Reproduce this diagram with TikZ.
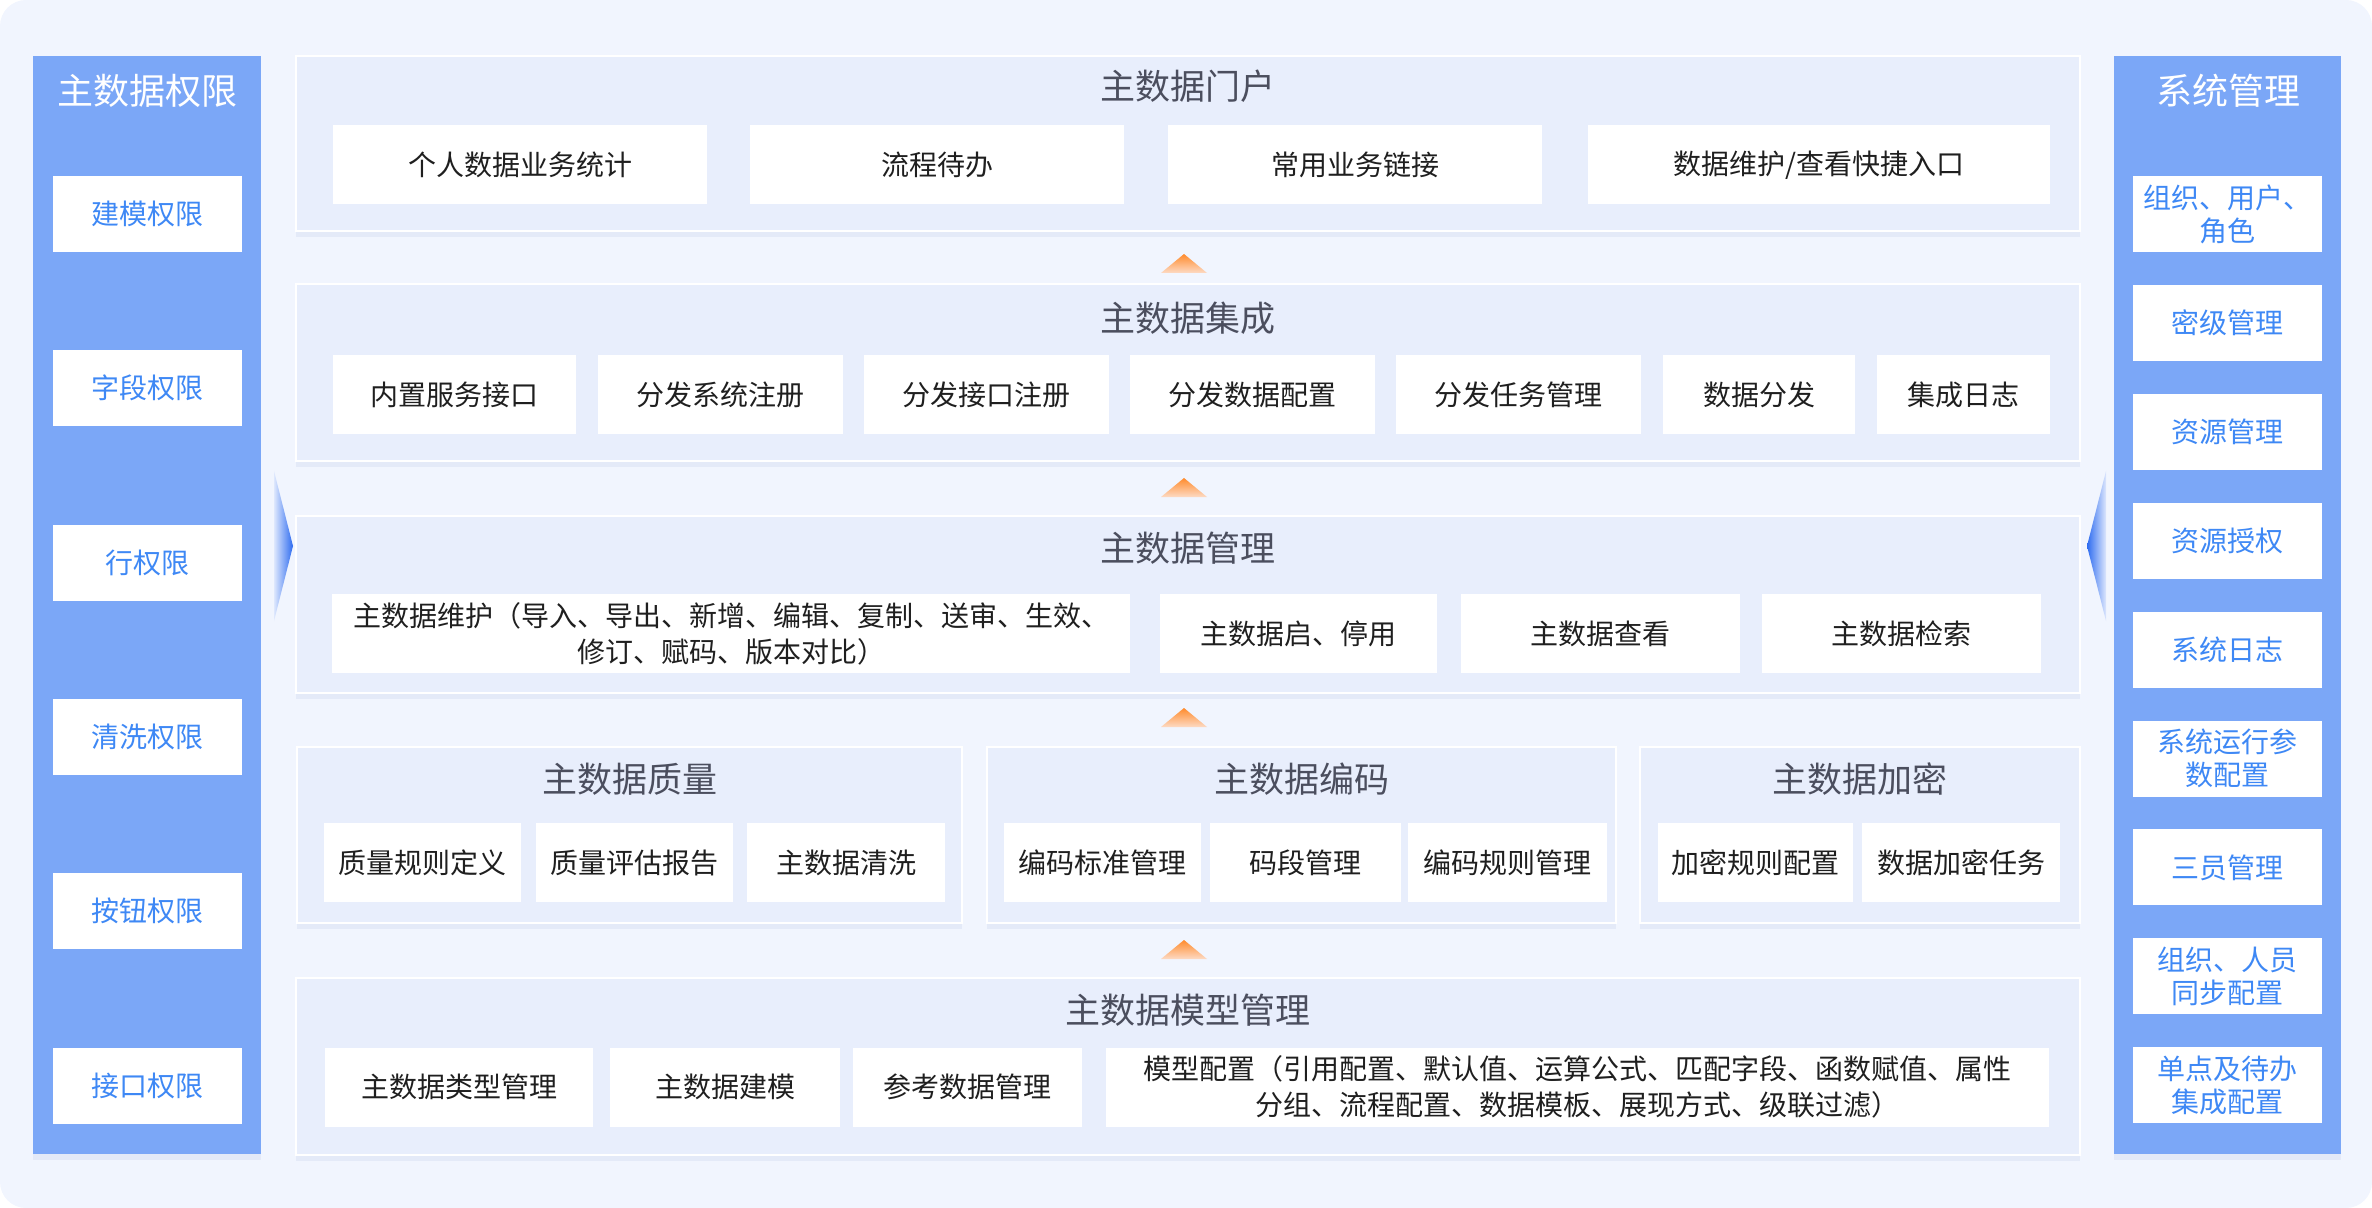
\documentclass[tikz,border=0pt]{standalone}
\usepackage{fontspec}
\setmainfont{Noto Sans CJK SC}
\usetikzlibrary{fit,shadows}

\definecolor{bgc}{HTML}{F1F5FE}
\definecolor{panelfill}{HTML}{E8EEFC}
\definecolor{sideblue}{HTML}{7BA7F7}
\definecolor{sidetext}{HTML}{3E88F5}
\definecolor{itemtext}{HTML}{1F1F1F}
\definecolor{titlegray}{HTML}{4B4E5E}
\definecolor{orangetop}{HTML}{FF8B2C}
\definecolor{orangebot}{HTML}{FDDAC4}
\definecolor{wedgedark}{HTML}{2E6CF0}
\definecolor{wedgelight}{HTML}{DDE7FD}
\definecolor{shadowc}{HTML}{9AAEDC}

\begin{document}
\begin{tikzpicture}[x=0.5pt,y=-0.5pt,
  panel/.style={fill=panelfill,draw=white,line width=1pt,inner sep=0pt,
    drop shadow={shadow xshift=0pt,shadow yshift=-3pt,opacity=0.15,fill=shadowc}},
  item/.style={fill=white,inner sep=0pt,text=itemtext,align=center,
    minimum height=39.5pt,font=\fontsize{14}{18}\selectfont},
  ptitle/.style={text=titlegray,font=\fontsize{17.5}{21}\selectfont},
  side/.style={fill=sideblue,inner sep=0pt,
    drop shadow={shadow xshift=0pt,shadow yshift=-3pt,opacity=0.15,fill=shadowc}},
  sidetitle/.style={text=white,font=\fontsize{18}{22}\selectfont},
  sideitem/.style={fill=white,text=sidetext,align=center,inner sep=0pt,
    minimum width=94.5pt,minimum height=38pt,font=\fontsize{14}{16.5}\selectfont},
  uptri/.style={top color=orangetop,bottom color=orangebot},
]
  \useasboundingbox (0,0) rectangle (2372,1208);
  \fill[bgc,rounded corners=13pt] (0,0) rectangle (2372,1208);

  % side columns
  \node[side,fit={(33,56) (261,1154)}] (perm) {};
  \node[sidetitle] (permtitle) at (147,91) {主数据权限};
  \foreach \t [count=\i] in {建模权限,字段权限,行权限,清洗权限,按钮权限,接口权限}
    \node[sideitem] (perm\i) at (147.5,{214+174.3*(\i-1)}) {\t};

  \node[side,fit={(2114,56) (2341,1154)}] (sys) {};
  \node[sidetitle] (systitle) at (2228,91) {系统管理};
  \foreach \t [count=\i] in {{组织、用户、\\角色},密级管理,资源管理,资源授权,系统日志,
      {系统运行参\\数配置},三员管理,{组织、人员\\同步配置},{单点及待办\\集成配置}}
    \node[sideitem] (sys\i) at (2227.5,{214+108.9*(\i-1)}) {\t};

  % portal
  \node[panel,fit={(296,56) (2080,231)}] (portal) {};
  \node[ptitle] (portaltitle) at (1188,86) {主数据门户};
  \foreach \a/\b/\t [count=\i] in {333/707/个人数据业务统计,750/1124/流程待办,
      1168/1542/常用业务链接,1588/2050/{数据维护/查看快捷入口}}
    \node[item,minimum width={(\b-\a)*0.5pt}] (port\i) at ({(\a+\b)/2},165) {\t};

  % integration
  \node[panel,fit={(296,284) (2080,461)}] (integ) {};
  \node[ptitle] (integtitle) at (1188,318) {主数据集成};
  \foreach \a/\b/\t [count=\i] in {333/576/内置服务接口,598/843/分发系统注册,
      864/1109/分发接口注册,1130/1375/分发数据配置,1396/1641/分发任务管理,
      1663/1855/数据分发,1877/2050/集成日志}
    \node[item,minimum width={(\b-\a)*0.5pt}] (integ\i) at ({(\a+\b)/2},394.5) {\t};

  % management
  \node[panel,fit={(296,516) (2080,693)}] (mgmt) {};
  \node[ptitle] (mgmttitle) at (1188,548) {主数据管理};
  \node[item,minimum width=399pt] (mgmt1) at (731,633.5)
    {主数据维护（导入、导出、新增、编辑、复制、送审、生效、\\修订、赋码、版本对比）};
  \foreach \a/\b/\t [count=\i from 2] in {1160/1437/主数据启、停用,
      1461/1740/主数据查看,1762/2041/主数据检索}
    \node[item,minimum width={(\b-\a)*0.5pt}] (mgmt\i) at ({(\a+\b)/2},633.5) {\t};

  % quality / coding / encryption
  \node[panel,fit={(297,747) (962,923)}] (qual) {};
  \node[ptitle] (qualtitle) at (629.5,779) {主数据质量};
  \foreach \a/\b/\t [count=\i] in {324/521/质量规则定义,536/733/质量评估报告,747/945/主数据清洗}
    \node[item,minimum width={(\b-\a)*0.5pt}] (qual\i) at ({(\a+\b)/2},862.5) {\t};

  \node[panel,fit={(987,747) (1616,923)}] (code) {};
  \node[ptitle] (codetitle) at (1301.5,779) {主数据编码};
  \foreach \a/\b/\t [count=\i] in {1004/1201/编码标准管理,1210/1401/码段管理,1408/1607/编码规则管理}
    \node[item,minimum width={(\b-\a)*0.5pt}] (code\i) at ({(\a+\b)/2},862.5) {\t};

  \node[panel,fit={(1640,747) (2080,923)}] (enc) {};
  \node[ptitle] (enctitle) at (1860,779) {主数据加密};
  \foreach \a/\b/\t [count=\i] in {1658/1853/加密规则配置,1862/2060/数据加密任务}
    \node[item,minimum width={(\b-\a)*0.5pt}] (enc\i) at ({(\a+\b)/2},862.5) {\t};

  % model
  \node[panel,fit={(296,978) (2080,1155)}] (model) {};
  \node[ptitle] (modeltitle) at (1188,1010) {主数据模型管理};
  \foreach \a/\b/\t [count=\i] in {325/593/主数据类型管理,610/840/主数据建模,853/1082/参考数据管理}
    \node[item,minimum width={(\b-\a)*0.5pt}] (model\i) at ({(\a+\b)/2},1087) {\t};
  \node[item,minimum width=471.5pt] (model4) at (1577.5,1087)
    {模型配置（引用配置、默认值、运算公式、匹配字段、函数赋值、属性\\分组、流程配置、数据模板、展现方式、级联过滤）};

  % up triangles
  \foreach \y in {254,478,708,940}
    \shade[uptri] (1184,\y) -- (1207,\y+19) -- (1161,\y+19) -- cycle;

  % side wedges
  \shade[left color=wedgelight,right color=wedgedark] (274,471) -- (293,546) -- (274,621) -- cycle;
  \shade[left color=wedgedark,right color=wedgelight] (2106,471) -- (2087,546) -- (2106,621) -- cycle;
\end{tikzpicture}
\end{document}
